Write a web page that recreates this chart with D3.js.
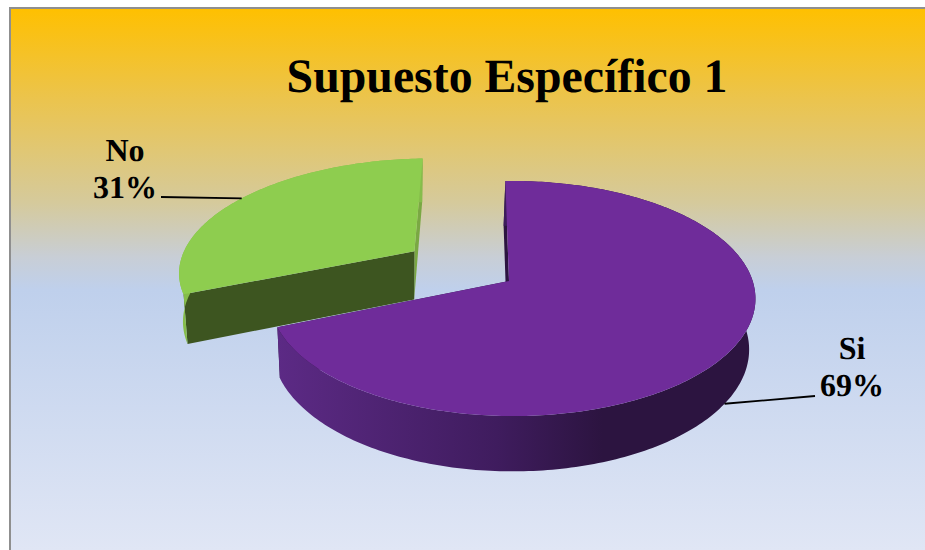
<!DOCTYPE html>
<html>
<head>
<meta charset="utf-8">
<script src="https://cdn.jsdelivr.net/npm/d3@7/dist/d3.min.js"></script>
<style>
  html, body { margin: 0; padding: 0; background: #fff; overflow: hidden; }
  svg { display: block; }
  text { font-family: "Liberation Serif", serif; font-weight: 700; fill: #000; text-rendering: geometricPrecision; }
</style>
</head>
<body>
<svg id="chart" width="925" height="550"></svg>
<script>
const chartTitle = "Supuesto Específico 1";
const categories = ["Si", "No"];
const shares = [69, 31];
const explode = [0, 0.49];
const spread = [1, 1.02];
const topColors = ["#6f2c9a", "#8ecd4f"];
const startCutColors = ["#2c1440", "#3d5520"];
const endCutColors = ["#2c1440", "#7aa843"];
const wallColors = [["#5c2a85", "#3f1c5e", "#2c1440", "#2c1440"], ["#86bd4b", "#86bd4b", "#86bd4b", "#86bd4b"]];
const wallStops = [0, 0.46, 0.68, 1];
const labelSpots = [{ x: 852, y: 359 }, { x: 125, y: 161 }];
const labelLeaderEnds = [{ x: 815, y: 396 }, { x: 161, y: 197 }];
const leaderLevels = [1, 0];

const width = 925, height = 550;
const svg = d3.select("#chart");

// Panel with its vertical yellow-to-blue fill
const defs = svg.append("defs");
const grad = defs.append("linearGradient")
  .attr("id", "panelFill").attr("x1", 0).attr("y1", 0).attr("x2", 0).attr("y2", 1);
[[0, "#ffc000"], [0.17, "#ebc44e"], [0.36, "#d5ca9c"], [0.46, "#c8ced6"], [0.52, "#bfd0ec"], [1, "#e0e6f5"]]
  .forEach(([o, c]) => grad.append("stop").attr("offset", o).attr("stop-color", c));
svg.append("rect").attr("x", 10).attr("y", 8).attr("width", width - 10).attr("height", height - 8)
  .attr("fill", "url(#panelFill)");
svg.append("path").attr("d", `M10,${height}V8H${width}`)
  .attr("fill", "none").attr("stroke", "#8f8f8f").attr("stroke-width", 2);

svg.append("text").attr("x", 507).attr("y", 92).attr("text-anchor", "middle")
  .attr("font-size", 47.8).text(chartTitle);

// Perspective projection of the pie: theta runs clockwise from the far side,
// level 0 is the top face and level 1 the bottom face.
const view = { cx: 509, cy: 281, rx: 240, ry: 114.9, depth: 50.5, near: 0.149, side: 0.015, sink: 0.018, drift: 1.8 };
function project(theta, r, off, level) {
  const rimX = r * Math.sin(theta) * off[2];
  const x = rimX + off[0];
  const y = -r * Math.cos(theta) + off[1];
  const d = 1 - view.near * y - view.side * rimX + view.sink * level;
  return [view.cx + view.rx * x / d - view.drift * level,
          view.cy + (view.ry * y + view.depth * level) / d];
}

const startAngle = -1 * Math.PI / 180;
const slices = d3.pie().sort(null).startAngle(startAngle).endAngle(startAngle + 2 * Math.PI)(shares);
const line = d3.line();
const step = Math.PI / 180;
const arcAngles = s => {
  const n = Math.ceil((s.endAngle - s.startAngle) / step);
  return d3.range(n + 1).map(i => s.startAngle + (s.endAngle - s.startAngle) * i / n);
};
const offsetOf = (s, i) => {
  const mid = (s.startAngle + s.endAngle) / 2;
  return [explode[i] * Math.sin(mid), -explode[i] * Math.cos(mid), spread[i]];
};

function drawSlice(s, i) {
  const g = svg.append("g").attr("class", "slice-" + categories[i]);
  const off = offsetOf(s, i);
  const angles = arcAngles(s);
  const rim = angles.map(t => project(t, 1, off, 0));
  const foot = angles.map(t => project(t, 1, off, 1));

  // Radial cut faces sit behind the top face and show only past its edges
  [[s.endAngle, endCutColors[i]], [s.startAngle, startCutColors[i]]].forEach(([t, color]) => {
    g.append("path")
      .attr("d", line([project(t, 0, off, 0), project(t, 1, off, 0), project(t, 1, off, 1), project(t, 0, off, 1)]) + "Z")
      .attr("fill", color);
  });

  // Outer wall, shaded from left to right across its visible width
  const [minX, maxX] = d3.extent(rim, p => p[0]);
  const wallFill = defs.append("linearGradient").attr("id", "wallFill" + i)
    .attr("gradientUnits", "userSpaceOnUse")
    .attr("x1", minX + (i === 0 ? rim[rim.length - 1][0] - minX : 0)).attr("y1", 0).attr("x2", maxX).attr("y2", 0);
  wallStops.forEach((o, k) => wallFill.append("stop").attr("offset", o).attr("stop-color", wallColors[i][k]));
  g.append("path").attr("d", line([...rim, ...foot.slice().reverse()]) + "Z")
    .attr("fill", `url(#wallFill${i})`);

  // Top face
  g.append("path").attr("d", line([project(0, 0, off, 0), ...rim]) + "Z").attr("fill", topColors[i]);
}

// The exploded slice goes first so the larger one overlaps it
slices.map((s, i) => [s, i]).reverse().forEach(([s, i]) => drawSlice(s, i));

// Labels and their leaders, which meet each slice at its mid angle
slices.forEach((s, i) => {
  const mid = (s.startAngle + s.endAngle) / 2;
  const end = project(mid, 1, offsetOf(s, i), leaderLevels[i]);
  const from = labelLeaderEnds[i];
  svg.append("line").attr("x1", from.x).attr("y1", from.y).attr("x2", end[0]).attr("y2", end[1])
    .attr("stroke", "#000").attr("stroke-width", 1.8);
  const spot = labelSpots[i];
  const label = svg.append("text").attr("text-anchor", "middle").attr("font-size", 32);
  label.append("tspan").attr("x", spot.x).attr("y", spot.y).text(categories[i]);
  label.append("tspan").attr("x", spot.x).attr("y", spot.y + 37).text(shares[i] + "%");
});
</script>
</body>
</html>
